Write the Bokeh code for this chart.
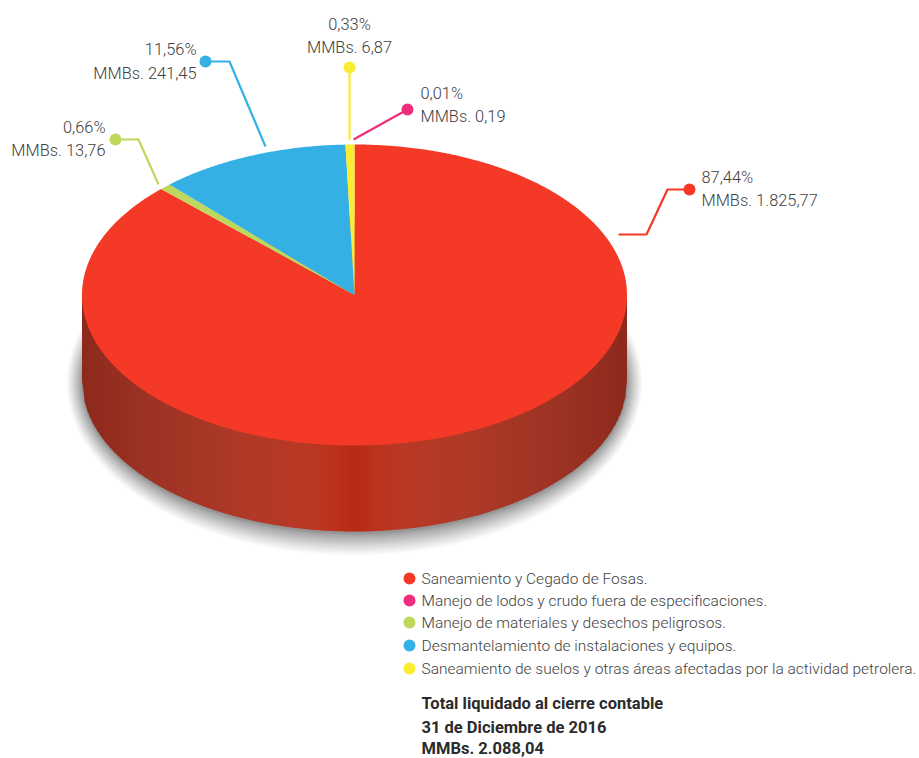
import numpy as np
from bokeh.plotting import figure
from bokeh.models import Range1d
from bokeh.core.properties import value
from bokeh.embed import file_html
from bokeh.resources import INLINE

categories = ["Saneamiento y Cegado de  Fosas.",
              "Manejo de lodos y crudo fuera de especificaciones.",
              "Manejo de materiales y desechos peligrosos.",
              "Desmantelamiento de instalaciones y equipos.",
              "Saneamiento de suelos y otras áreas afectadas por la actividad petrolera."]
percent_labels = ["87,44%", "0,01%", "0,66%", "11,56%", "0,33%"]
amount_labels = ["MMBs. 1.825,77", "MMBs. 0,19", "MMBs. 13,76", "MMBs. 241,45", "MMBs. 6,87"]
# slice sizes as drawn in the picture (percent, clockwise from the top)
drawn_shares = [87.44, 0.01, 0.66, 11.36, 0.53]
colors = ["#F43A26", "#EF2D7E", "#BED85C", "#35B0E5", "#F9EC31"]
total_lines = ["Total liquidado al cierre contable", "31 de Diciembre de 2016", "MMBs. 2.088,04"]

FONT = "Roboto Light, Roboto"
BOLD = "Roboto"
TXT = "#424242"
CX, CY, RX, RY, DEPTH = 354.0, 294.5, 272.5, 150.5, 86.0

p = figure(width=919, height=758, output_backend="svg", toolbar_location=None,
           x_range=Range1d(0, 919), y_range=Range1d(758, 0), min_border=0,
           outline_line_color=None, background_fill_color="white", border_fill_color="white")
p.axis.visible = False
p.grid.visible = False

# soft shadow below the disc
n = 30
t = np.linspace(0, 2 * np.pi, 200)
for k in range(n):
    grow = 22 * (1 - k / n) ** 1.5
    p.patch(CX + (RX + grow * 0.7) * np.cos(t), CY + DEPTH + 2 + (RY + grow) * np.sin(t),
            fill_color="black", fill_alpha=0.017, line_color=None)

# side wall, shaded strip by strip
def side_color(u):
    stops_u = [0.0, 0.03, 0.12, 0.30, 0.42, 0.47, 0.50, 0.53, 0.58, 0.70, 0.88, 0.97, 1.0]
    r = [0x8c, 0x92, 0x9c, 0xb0, 0xba, 0xbc, 0xb8, 0xbc, 0xba, 0xb0, 0x9c, 0x92, 0x8c]
    g = [0x2a, 0x2c, 0x33, 0x3a, 0x38, 0x31, 0x2a, 0x31, 0x38, 0x3a, 0x33, 0x2c, 0x2a]
    b = [0x1c, 0x1e, 0x24, 0x28, 0x25, 0x1c, 0x13, 0x1c, 0x25, 0x28, 0x24, 0x1e, 0x1c]
    return "#%02x%02x%02x" % (int(np.interp(u, stops_u, r)), int(np.interp(u, stops_u, g)), int(np.interp(u, stops_u, b)))

edges = np.linspace(CX - RX, CX + RX, 219)
xs, ys, cs = [], [], []
for a, b in zip(edges[:-1], edges[1:]):
    sx = np.array([a, b + 1.0 if b < CX + RX else b])
    arc = CY + RY * np.sqrt(np.clip(1 - ((sx - CX) / RX) ** 2, 0, 1))
    xs.append([sx[0], sx[1], sx[1], sx[0]])
    ys.append([arc[0] - 2, arc[1] - 2, arc[1] + DEPTH, arc[0] + DEPTH])
    cs.append(side_color((0.5 * (a + b) - (CX - RX)) / (2 * RX)))
p.patches(xs, ys, fill_color=cs, line_color=None)

# top face
start = 0.0
for share, col in zip(drawn_shares, colors):
    end = start + share
    ang = np.linspace(start, end, max(3, int(share * 8))) / 100 * 2 * np.pi
    px = np.r_[CX, CX + RX * np.sin(ang)]
    py = np.r_[CY, CY - RY * np.cos(ang)]
    p.patch(px, py, fill_color=col, line_color=None)
    start = end

# leader lines: one per category, same order
leader_x = [[618, 646, 667, 689], [353, 407], [158, 138, 115], [265, 229, 205], [349, 349]]
leader_y = [[234, 234, 189, 189], [139, 109], [184, 139, 139], [146, 61, 61], [139, 67]]
for lx, ly, col in zip(leader_x, leader_y, colors):
    p.line(lx, ly, line_color=col, line_width=2.2)
    p.scatter([lx[-1]], [ly[-1]], size=12, marker="circle", fill_color=col, line_color=None)

# callout text
anchor_x = [701, 420, 105, 196, 349]
anchor_y = [[177, 200], [93, 116], [127, 150], [49, 73], [24, 47]]
aligns = ["left", "left", "right", "right", "center"]
for i in range(5):
    for line, y in zip((percent_labels[i], amount_labels[i]), anchor_y[i]):
        p.text([anchor_x[i]], [y], text=[line], text_font=value(FONT), text_font_size="16.4px",
               text_color=TXT, text_align=aligns[i], text_baseline="middle")

# legend
legend_y = [578, 600, 622, 645, 668]
p.scatter([409] * 5, legend_y, size=12, marker="circle", fill_color=colors, line_color=None)
p.text([421] * 5, legend_y, text=categories, text_font=value(FONT), text_font_size="15.5px",
       text_color=TXT, text_align="left", text_baseline="middle")

# total block
p.text([421] * 3, [703, 727, 748], text=total_lines, text_font=value(BOLD), text_font_size="16.5px",
       text_font_style="bold", text_color="#2b2b2b", text_align="left", text_baseline="middle")

open("out.html", "w").write(file_html(p, INLINE))
